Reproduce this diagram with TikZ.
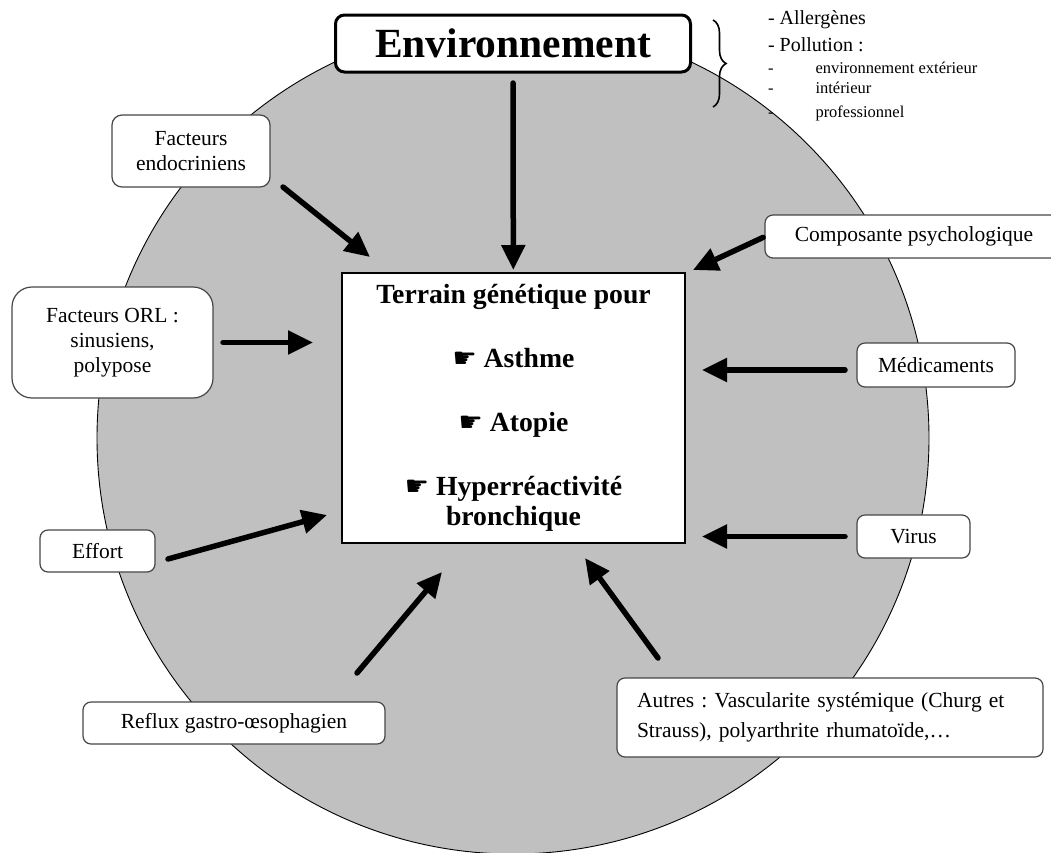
\documentclass[tikz,border=0pt]{standalone}
\usepackage{fontspec}
\setmainfont{Liberation Serif}
\newfontfamily\handfont{DejaVu Sans}
\usetikzlibrary{arrows.meta,decorations.pathreplacing}
\definecolor{discgray}{RGB}{192,192,192}
\definecolor{boxline}{RGB}{70,70,70}
\newcommand{\hand}{{\handfont\fontsize{27}{27}\selectfont ☛}}
\frenchspacing
\begin{document}
\begin{tikzpicture}[x=1pt,y=-1pt,every node/.style={inner sep=0pt, outer sep=0pt},
  factor/.style={draw=boxline, line width=1.2pt, fill=white, rounded corners=8pt, align=center, font=\fontsize{21.5}{25}\selectfont},
  arr/.style={line width=5.5pt, line cap=round, -{Triangle[length=25pt,width=23pt]}},
  aside/.style={anchor=west, font=\fontsize{20}{22}\selectfont},
  subaside/.style={anchor=west, font=\fontsize{16.5}{18}\selectfont}]
\useasboundingbox (0,0) rectangle (1051,852);
\draw[fill=discgray, line width=0.9pt] (513,438) circle (416);
\node[draw=black, line width=3pt, rounded corners=9pt, fill=white, minimum width=355pt, minimum height=57pt, font=\fontsize{41.5}{44}\selectfont\bfseries] (env) at (513,43.5) {Environnement};
\node[draw=black, line width=1.2pt, fill=white, minimum width=343pt, minimum height=270pt, align=center, font=\fontsize{27.7}{30}\selectfont\bfseries] (terrain) at (513.5,408) {Terrain génétique pour\\[34pt] \hand\ Asthme\\[34pt] \hand\ Atopie\\[34pt] \hand\ Hyperréactivité\\ bronchique};
\node[factor, rounded corners=10pt, minimum width=158pt, minimum height=72pt] (endo) at (191,151) {Facteurs\\endocriniens};
\node[factor, rounded corners=20pt, minimum width=201pt, minimum height=111pt] (orl) at (112.5,342.5) {Facteurs ORL :\\sinusiens,\\polypose};
\node[factor, minimum width=115pt, minimum height=42pt] (effort) at (97.5,551) {Effort};
\node[factor, minimum width=302pt, minimum height=42pt] (reflux) at (234,723) {Reflux gastro-œsophagien};
\node[factor, minimum width=426pt, minimum height=79pt, text width=386pt, align=left, font=\fontsize{21.5}{30}\selectfont] (autres) at (830,717.5) {Autres : Vascularite systémique (Churg et\\Strauss), polyarthrite rhumatoïde,…};
\node[factor, minimum width=113pt, minimum height=43pt] (virus) at (913.5,536.5) {Virus};
\node[factor, minimum width=158pt, minimum height=44pt] (med) at (936,365) {Médicaments};
\node[factor, minimum width=298pt, minimum height=43pt] (psy) at (914,236.5) {Composante psychologique};
\node[aside] (allerg) at (768,20) {- Allergènes};
\node[aside] (pollu) at (768,45) {- Pollution :};
\node[subaside] (pext) at (768,68) {-\hspace{42pt}environnement extérieur};
\node[subaside] (pint) at (768,88) {-\hspace{42pt}intérieur};
\node[subaside] (ppro) at (768,113) {-\hspace{42pt}professionnel};
\draw[decorate, decoration={brace, amplitude=13pt}, line width=1.6pt] (713,20) -- (713,107);
\coordinate (endo-tail) at (283,187);
\coordinate (endo-tip) at (370,257);
\coordinate (effort-tail) at (168,559);
\coordinate (effort-tip) at (327,515);
\coordinate (reflux-tail) at (357,673);
\coordinate (reflux-tip) at (442,572);
\coordinate (autres-tail) at (658,658);
\coordinate (autres-tip) at (585,558);
\coordinate (psy-tip) at (693,270);
\draw[arr, shorten <=11pt, shorten >=3pt] (env) -- (terrain);
\draw[arr] (endo-tail) -- (endo-tip);
\draw[arr, shorten <=10pt, shorten >=29pt] (orl.east) -- (orl.east -| terrain.west);
\draw[arr] (effort-tail) -- (effort-tip);
\draw[arr] (reflux-tail) -- (reflux-tip);
\draw[arr] (autres-tail) -- (autres-tip);
\draw[arr, shorten <=12pt, shorten >=17pt] ([yshift=-5pt]med.west) -- ([yshift=-5pt]med.west -| terrain.east);
\draw[arr, shorten <=12pt, shorten >=17pt] (virus.west) -- (virus.west -| terrain.east);
\draw[arr, shorten <=2pt] (psy.west) -- (psy-tip);
\end{tikzpicture}
\end{document}
